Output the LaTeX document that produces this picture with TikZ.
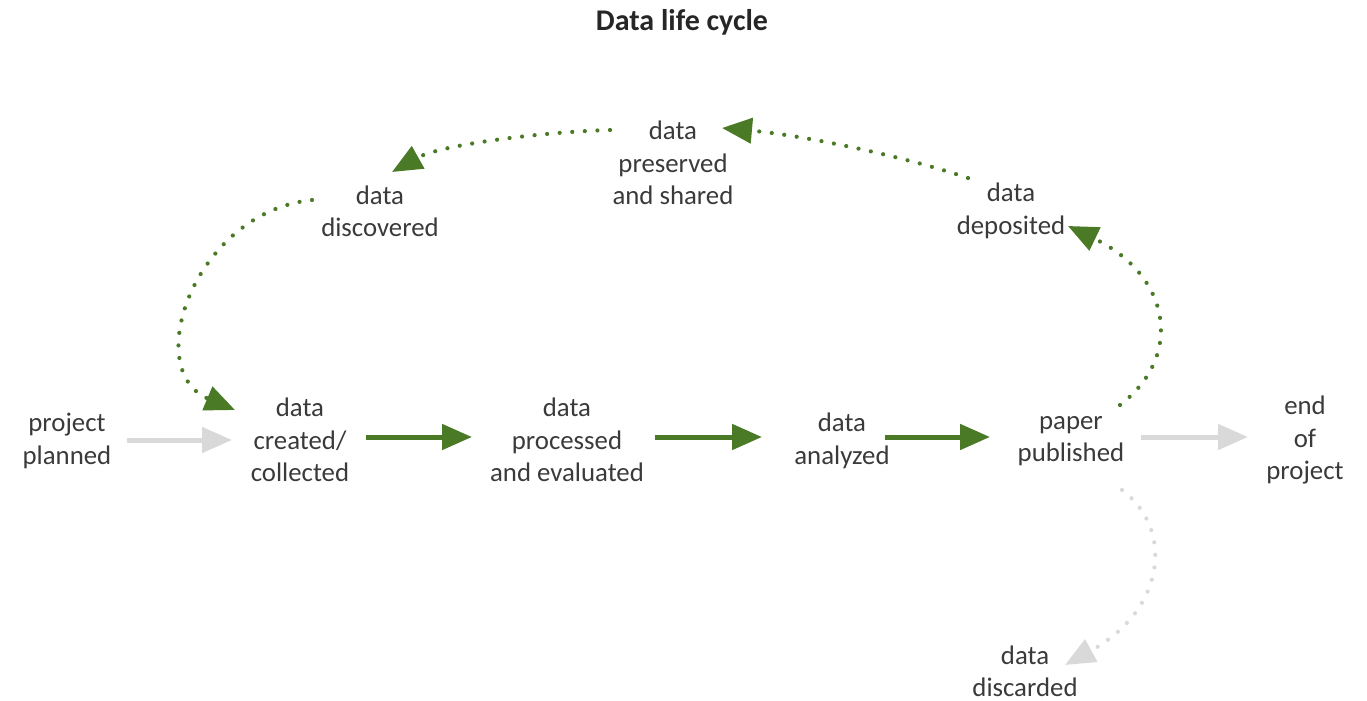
\documentclass[tikz,border=0pt]{standalone}
\usepackage{fontspec}
\setmainfont{Carlito}
\usetikzlibrary{arrows.meta}
\definecolor{lgreen}{HTML}{4A7A25}
\definecolor{lgray}{HTML}{D9D9D9}
\definecolor{txt}{HTML}{3A3A3A}
\begin{document}
\begin{tikzpicture}[x=0.5pt,y=-0.5pt,
  lbl/.style={align=center,text=txt,font=\fontsize{13.4}{16.2}\selectfont,inner sep=0pt},
  solidg/.style={draw=lgreen,line width=2.5pt,-{Triangle[length=15pt,width=12.5pt]},fill=lgreen},
  solidgray/.style={draw=lgray,line width=2.5pt,-{Triangle[length=15pt,width=12.5pt]},fill=lgray},
  dotg/.style={draw=lgreen,line width=2.1pt,line cap=round,dash pattern=on 0pt off 6.3pt,-{Triangle[length=15pt,width=12.5pt,fill=lgreen]}},
  dotgray/.style={draw=lgray,line width=2.1pt,line cap=round,dash pattern=on 0pt off 6.3pt,-{Triangle[length=15pt,width=12.5pt,fill=lgray]}}]
\useasboundingbox (0,0) rectangle (1367,701);
\node[font=\bfseries\fontsize{15}{18}\selectfont,text=black!85] (title) at (682,22) {Data life cycle};
\node[lbl] (pp) at (67,441) {project\\planned};
\node[lbl] (ca) at (300,440) {data\\created/\\collected};
\node[lbl] (pe) at (567,440) {data\\processed\\and evaluated};
\node[lbl] (an) at (842,441) {data\\analyzed};
\node[lbl] (pub) at (1071,441) {paper\\published};
\node[lbl] (end) at (1305,440) {end\\of\\project};
\node[lbl] (dsc) at (1025,671) {data\\discarded};
\node[lbl] (disc) at (380,211) {data\\discovered};
\node[lbl] (pres) at (673,163) {data\\preserved\\and shared};
\node[lbl] (dep) at (1011,211) {data\\deposited};
% straight arrows
\draw[solidgray] ([shift={(60,-1)}]pp.center) -- ([shift={(-68,0)}]ca.center);
\draw[solidg] ([shift={(66,-3)}]ca.center) -- ([shift={(-95,-3)}]pe.center);
\draw[solidg] ([shift={(88,-3)}]pe.center) -- ([shift={(-80,-4)}]an.center);
\draw[solidg] ([shift={(43,-4)}]an.center) -- ([shift={(-81,-4)}]pub.center);
\draw[solidgray] ([shift={(70,-4)}]pub.center) -- ([shift={(-57,-3)}]end.center);
% dotted cycle
\draw[dotg] ([shift={(49,-36)}]pub.center) .. controls (1185,355) and (1170,275) .. ([shift={(57,15)}]dep.center);
\draw[dotg] ([shift={(-43,-33)}]dep.center) .. controls (900,155) and (800,135) .. ([shift={(49,-35)}]pres.center);
\draw[dotg] ([shift={(-63,-33)}]pres.center) .. controls (540,132) and (440,145) .. ([shift={(12,-39)}]disc.center);
\draw[dotg] ([shift={(-68,-11)}]disc.center) .. controls (195,212) and (140,370) .. ([shift={(-65,-30)}]ca.center);
\draw[dotgray] ([shift={(51,49)}]pub.center) .. controls (1175,530) and (1165,610) .. ([shift={(40,-6)}]dsc.center);
\end{tikzpicture}
\end{document}
